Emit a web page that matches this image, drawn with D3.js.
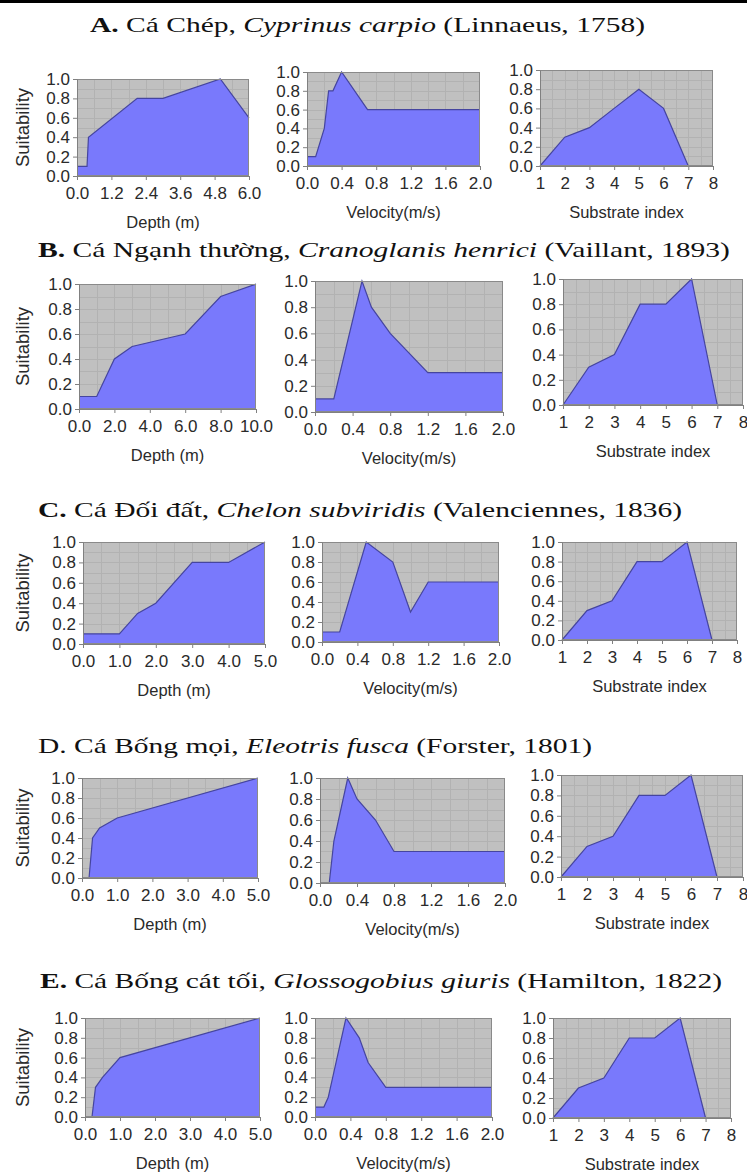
<!DOCTYPE html>
<html><head><meta charset="utf-8">
<script src="https://cdn.jsdelivr.net/npm/d3@7"></script>
<style>body{margin:0;background:#fff;} svg{display:block}</style>
</head><body>
<svg id="c" width="747" height="1174"></svg>
<script>
// ---------- data ----------
const rowLetters = ["A.", "B.", "C.", "D.", "E."];
const rowCommon = ["Cá Chép, ", "Cá Ngạnh thường, ", "Cá Đối đất, ", "Cá Bống mọi, ", "Cá Bống cát tối, "];
const rowScientific = ["Cyprinus carpio", "Cranoglanis henrici", "Chelon subviridis", "Eleotris fusca", "Glossogobius giuris"];
const rowAuthority = [" (Linnaeus, 1758)", " (Vaillant, 1893)", " (Valenciennes, 1836)", " (Forster, 1801)", " (Hamilton, 1822)"];
const letterBold = [true, true, true, false, true];

const depthMax = [6, 10, 5, 5, 5];
const depthTicks = [
  [0, 1.2, 2.4, 3.6, 4.8, 6.0],
  [0, 2, 4, 6, 8, 10],
  [0, 1, 2, 3, 4, 5],
  [0, 1, 2, 3, 4, 5],
  [0, 1, 2, 3, 4, 5]
];
const velocityTicks = [0, 0.4, 0.8, 1.2, 1.6, 2.0];
const substrateTicks = [1, 2, 3, 4, 5, 6, 7, 8];
const suitabilityTicks = [0, 0.2, 0.4, 0.6, 0.8, 1.0];

const depthA = [[0,0.1],[0.35,0.1],[0.4,0.4],[2.1,0.8],[3.0,0.8],[5.0,1.0],[6.0,0.6]];
const velocityA = [[0,0.1],[0.1,0.1],[0.2,0.4],[0.25,0.8],[0.3,0.8],[0.4,1.0],[0.7,0.6],[2.0,0.6]];
const substrateA = [[1,0],[2,0.3],[3,0.4],[4,0.6],[5,0.8],[6,0.6],[7,0]];

const depthB = [[0,0.1],[1,0.1],[2,0.4],[3,0.5],[6,0.6],[8,0.9],[10,1.0]];
const velocityB = [[0,0.1],[0.2,0.1],[0.5,1.0],[0.6,0.8],[0.8,0.6],[1.2,0.3],[2.0,0.3]];
const substrateB = [[1,0],[2,0.3],[3,0.4],[4,0.8],[5,0.8],[6,1.0],[7,0]];

const depthC = [[0,0.1],[1,0.1],[1.5,0.3],[2,0.4],[3,0.8],[4,0.8],[5,1.0]];
const velocityC = [[0,0.1],[0.2,0.1],[0.5,1.0],[0.8,0.8],[1.0,0.3],[1.2,0.6],[2.0,0.6]];
const substrateC = [[1,0],[2,0.3],[3,0.4],[4,0.8],[5,0.8],[6,1.0],[7,0]];

const depthD = [[0,0],[0.2,0],[0.3,0.4],[0.5,0.5],[1.0,0.6],[5.0,1.0]];
const velocityD = [[0,0],[0.1,0],[0.15,0.4],[0.3,1.0],[0.4,0.8],[0.6,0.6],[0.8,0.3],[2.0,0.3]];
const substrateD = [[1,0],[2,0.3],[3,0.4],[4,0.8],[5,0.8],[6,1.0],[7,0]];

const depthE = [[0,0],[0.2,0],[0.3,0.3],[0.5,0.4],[1.0,0.6],[5.0,1.0]];
const velocityE = [[0,0.1],[0.1,0.1],[0.15,0.2],[0.2,0.4],[0.35,1.0],[0.5,0.8],[0.6,0.55],[0.8,0.3],[2.0,0.3]];
const substrateE = [[1,0],[2,0.3],[3,0.4],[4,0.8],[5,0.8],[6,1.0],[7,0]];

const depthSeries = [depthA, depthB, depthC, depthD, depthE];
const velocitySeries = [velocityA, velocityB, velocityC, velocityD, velocityE];
const substrateSeries = [substrateA, substrateB, substrateC, substrateD, substrateE];

// ---------- layout ----------
const titleLayout = [
  {x: 90, y: 32, w: 555},
  {x: 38, y: 257, w: 692},
  {x: 38, y: 517, w: 644},
  {x: 38, y: 753, w: 554},
  {x: 40, y: 988, w: 682}
];
// plot rectangles [x0, x1, y0, y1] per row: depth, velocity, substrate
const panelRects = [
  [[77,249,79,176],[307,480,72,166],[540,713,70,166]],
  [[79,256,284,409],[315,503,281,412],[563,743,279,405]],
  [[83,265,542,644],[322,499,542,642],[562,737,542,640]],
  [[82,258,778,878],[320,505,778,883],[561,743,775,877]],
  [[85,260,1018,1117],[315,492,1018,1117],[553,731,1018,1118]]
];

const svg = d3.select("#c");
svg.append("rect").attr("x",0).attr("y",0).attr("width",747).attr("height",3).attr("fill","#000");

const BG = "#c0c0c0", GRID = "#b2b2b2", FILL = "#7979fc", STROKE = "#45459f", TXT = "#2a2a2a";
const sansFont = "'Liberation Sans', Arial, sans-serif";

// titles
titleLayout.forEach((t, i) => {
  const tx = svg.append("text")
    .attr("x", t.x).attr("y", t.y)
    .attr("font-family", "'Liberation Serif', 'Times New Roman', serif")
    .attr("font-size", 22).attr("fill", "#111")
    .attr("textLength", t.w).attr("lengthAdjust", "spacingAndGlyphs");
  tx.append("tspan").attr("font-weight", letterBold[i] ? "bold" : "normal").text(rowLetters[i] + " ");
  tx.append("tspan").text(rowCommon[i]);
  tx.append("tspan").attr("font-style", "italic").text(rowScientific[i]);
  tx.append("tspan").text(rowAuthority[i]);
});

function fmt1(v) { return d3.format(".1f")(v); }

function drawPanel(rect, data, xDomain, xTicks, xFmt, xTitle, showYTitle) {
  const [x0, x1, y0, y1] = rect;
  const x = d3.scaleLinear().domain(xDomain).range([x0, x1]);
  const y = d3.scaleLinear().domain([0, 1]).range([y1, y0]);
  const g = svg.append("g");

  g.append("rect").attr("x", x0).attr("y", y0).attr("width", x1 - x0).attr("height", y1 - y0).attr("fill", BG);

  // minor + major grid
  const xGrid = d3.range(0, 2 * (xTicks.length - 1) + 1).map(k => xDomain[0] + k * (xDomain[1] - xDomain[0]) / (2 * (xTicks.length - 1)));
  g.selectAll(".vg").data(xGrid.slice(1, -1)).enter().append("line")
    .attr("x1", d => Math.round(x(d)) + 0.5).attr("x2", d => Math.round(x(d)) + 0.5)
    .attr("y1", y0).attr("y2", y1).attr("stroke", GRID).attr("stroke-width", 1);
  g.selectAll(".hg").data(d3.range(1, 10).map(k => k / 10)).enter().append("line")
    .attr("y1", d => Math.round(y(d)) + 0.5).attr("y2", d => Math.round(y(d)) + 0.5)
    .attr("x1", x0).attr("x2", x1).attr("stroke", GRID).attr("stroke-width", 1);

  const area = d3.area().x(d => x(d[0])).y0(y(0)).y1(d => y(d[1]));
  const line = d3.line().x(d => x(d[0])).y(d => y(d[1]));
  g.append("path").datum(data).attr("d", area).attr("fill", FILL);
  g.append("path").datum(data).attr("d", line).attr("fill", "none").attr("stroke", STROKE).attr("stroke-width", 1.2);

  // plot border
  g.append("rect").attr("x", x0 + 0.5).attr("y", y0 + 0.5).attr("width", x1 - x0 - 1).attr("height", y1 - y0 - 1)
    .attr("fill", "none").attr("stroke", "#8a8a8a").attr("stroke-width", 1);

  // axes
  const xAxis = d3.axisBottom(x).tickValues(xTicks).tickFormat(xFmt).tickSize(4).tickPadding(7);
  const gx = g.append("g").attr("transform", `translate(0,${y1})`).call(xAxis);
  const yAxis = d3.axisLeft(y).tickValues(suitabilityTicks).tickFormat(fmt1).tickSize(4).tickPadding(3);
  const gy = g.append("g").attr("transform", `translate(${x0},0)`).call(yAxis);
  [gx, gy].forEach(a => {
    a.select(".domain").attr("stroke", "#808080");
    a.selectAll(".tick line").attr("stroke", "#808080");
    a.selectAll(".tick text").attr("fill", TXT).attr("font-family", sansFont).attr("font-size", 17);
  });

  g.append("text").attr("x", (x0 + x1) / 2).attr("y", y1 + 52)
    .attr("text-anchor", "middle").attr("font-family", sansFont).attr("font-size", 16.5).attr("fill", TXT)
    .text(xTitle);

  if (showYTitle) {
    g.append("text").attr("transform", `translate(29,${(y0 + y1) / 2}) rotate(-90)`)
      .attr("text-anchor", "middle").attr("font-family", sansFont).attr("font-size", 18.5).attr("fill", TXT)
      .text("Suitability");
  }
}

for (let i = 0; i < 5; i++) {
  drawPanel(panelRects[i][0], depthSeries[i], [0, depthMax[i]], depthTicks[i], fmt1, "Depth (m)", true);
  drawPanel(panelRects[i][1], velocitySeries[i], [0, 2], velocityTicks, fmt1, "Velocity(m/s)", false);
  drawPanel(panelRects[i][2], substrateSeries[i], [1, 8], substrateTicks, d3.format("d"), "Substrate index", false);
}
</script>
</body></html>
